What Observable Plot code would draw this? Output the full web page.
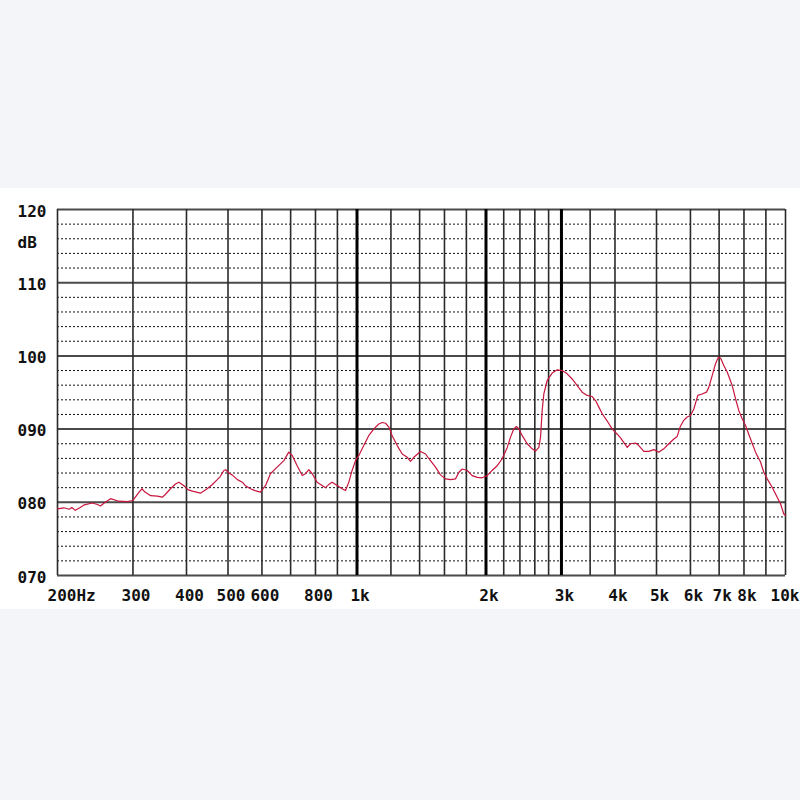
<!DOCTYPE html>
<html>
<head>
<meta charset="utf-8">
<script src="https://cdn.jsdelivr.net/npm/d3@7"></script>
<script src="https://cdn.jsdelivr.net/npm/@observablehq/plot@0.6"></script>
<style>
  html, body { margin: 0; padding: 0; background: #f4f5f9; width: 800px; height: 800px; overflow: hidden; }
  #chart { margin-top: 188px; background: #ffffff; width: 800px; }
  #chart svg { display: block; background: #ffffff; }
</style>
</head>
<body>
<div id="chart"></div>
<script>
// Frequency response (Hz, dB)
const freqs = [200,207,213,216,220,226,231,241,248,252,257,266,278,291,300,310,315,320,330,342,351,356,367,377,384,394,404,415,431,447,459,472,480,489,494,502,511,526,540,548,564,578,595,612,628,651,675,693,706,725,745,758,772,786,807,829,844,860,875,899,923,940,957,974,992,1010,1037,1065,1094,1124,1145,1166,1188,1208,1241,1275,1310,1333,1357,1407,1445,1484,1525,1566,1609,1653,1698,1729,1760,1808,1857,1908,1959,2013,2067,2124,2182,2242,2282,2323,2356,2385,2430,2496,2564,2610,2657,2681,2705,2729,2779,2854,2932,3012,3094,3178,3265,3354,3446,3539,3603,3668,3735,3837,3942,4049,4121,4272,4349,4467,4546,4669,4797,4930,5060,5198,5342,5488,5588,5686,5788,5896,6003,6110,6242,6390,6540,6622,6744,6864,6966,7053,7178,7310,7510,7644,7780,7924,8066,8287,8513,8745,8900,9064,9310,9564,9736,9910,10000];
const levels = [79.1,79.25,79.05,79.3,78.9,79.3,79.65,79.9,79.7,79.5,79.9,80.5,80.15,80.1,80.25,81.4,81.85,81.4,80.9,80.85,80.7,81.0,81.85,82.5,82.75,82.3,81.7,81.5,81.25,81.85,82.4,83.1,83.55,84.35,84.45,84.0,83.75,83.1,82.75,82.3,81.85,81.6,81.4,82.3,83.9,84.8,85.7,86.85,86.4,85.0,83.65,83.9,84.45,83.9,82.75,82.3,82.0,82.45,82.75,82.3,81.85,81.6,82.75,84.35,85.7,86.4,87.75,89.1,90.0,90.7,90.9,90.8,90.25,89.1,87.75,86.6,86.15,85.6,86.15,86.95,86.6,85.7,84.8,83.75,83.2,83.1,83.2,84.1,84.55,84.35,83.65,83.4,83.35,83.65,84.35,85.0,85.95,87.5,88.9,90.05,90.35,90.05,89.1,88.0,87.3,87.0,87.5,88.9,92.55,94.8,96.65,97.65,98.1,98.0,97.55,96.85,95.95,95.05,94.6,94.45,93.9,93.0,92.1,91.1,90.0,89.3,88.8,87.5,88.0,88.1,87.75,86.95,86.95,87.2,86.85,87.3,88.0,88.65,89.0,90.4,91.2,91.65,91.85,92.75,94.6,94.8,95.05,95.7,97.3,98.9,99.8,99.7,98.7,97.8,95.95,94.15,92.55,91.4,90.5,88.65,86.85,85.5,84.1,83.2,82.05,80.7,79.8,78.4,78.2];

// Grid and tick definitions
const gridFreqs = [200,300,400,500,600,700,800,900,1000,1200,1400,1600,1800,2000,2200,2400,2600,2800,3000,3500,4000,5000,6000,7000,8000,9000,10000];
const boldFreqs = [1000,2000,3000];
const majorLevels = [70,80,90,100,110,120];
const minorLevels = [72,74,76,78,82,84,86,88,92,94,96,98,102,104,106,108,112,114,116,118];
const xTickValues = [300,400,500,600,800,1000,2000,3000,4000,5000,6000,7000,8000];
const xTickLabels = ["300","400","500","600","800","1k","2k","3k","4k","5k","6k","7k","8k"];
const firstXTick = {f: 200, label: "200Hz"};
const lastXTick = {f: 10000, label: "10k"};
const yTickLabels = ["070","080","090","100","110","120"];
const unitLabel = "dB";

const data = freqs.map((f, i) => ({f, v: levels[i]}));
const xTicks = xTickValues.map((f, i) => ({f, label: xTickLabels[i]}));
const yTicks = majorLevels.map((v, i) => ({v, label: yTickLabels[i]}));

const font = "'DejaVu Sans Mono', monospace";
const fs = 16;

const chart = Plot.plot({
  width: 800,
  height: 421,
  marginLeft: 57,
  marginRight: 15,
  marginTop: 21,
  marginBottom: 34,
  style: {background: "#ffffff", fontFamily: font},
  x: {type: "log", domain: [200, 10000], axis: null},
  y: {type: "linear", domain: [70, 120], axis: null},
  marks: [
    Plot.ruleY(minorLevels, {stroke: "#111", strokeWidth: 1, strokeDasharray: "2,2"}),
    Plot.ruleY(majorLevels, {stroke: "#4a4a4a", strokeWidth: 2}),
    Plot.ruleX(gridFreqs, {stroke: "#2a2a2a", strokeWidth: 1.6}),
    Plot.ruleX(boldFreqs, {stroke: "#000", strokeWidth: 3}),
    Plot.line(data, {x: "f", y: "v", stroke: "#c8163e", strokeWidth: 1.2}),
    Plot.text(yTicks, {x: () => 200, y: "v", text: "label", textAnchor: "end", dx: -11, dy: 2,
      fontSize: fs, fontWeight: "bold", fill: "#111"}),
    Plot.text([unitLabel], {x: () => 200, y: () => 115.4, text: d => d, textAnchor: "start", dx: -40,
      fontSize: fs, fontWeight: "bold", fill: "#111"}),
    Plot.text(xTicks, {x: "f", y: () => 70, text: "label", textAnchor: "middle", dy: 20, dx: 3,
      fontSize: fs, fontWeight: "bold", fill: "#111"}),
    Plot.text([firstXTick], {x: "f", y: () => 70, text: "label", textAnchor: "start", dy: 20, dx: -10,
      fontSize: fs, fontWeight: "bold", fill: "#111"}),
    Plot.text([lastXTick], {x: "f", y: () => 70, text: "label", textAnchor: "end", dy: 20, dx: 14,
      fontSize: fs, fontWeight: "bold", fill: "#111"})
  ]
});
document.getElementById("chart").appendChild(chart);
</script>
</body>
</html>
